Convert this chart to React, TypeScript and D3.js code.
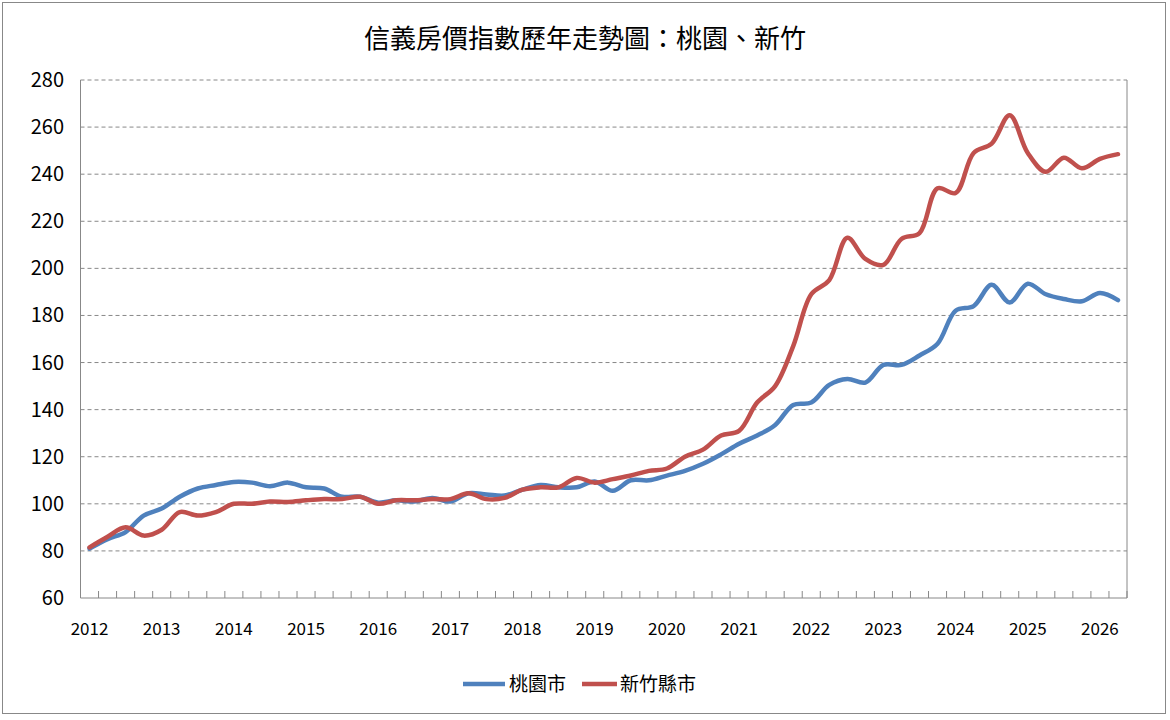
import React from "react";
import * as d3 from "d3";

const years = ["2012","2013","2014","2015","2016","2017","2018","2019","2020","2021","2022","2023","2024","2025","2026"];
const taoyuan = [81,85,88,95,98,103,106.5,108,109.3,109,107.5,109,107,106.5,103,103,100.5,101.5,101,102.5,101,104.5,104,103.5,106,108,107,107,109.5,105.5,110,110,112,114,117,121,125.5,129,133.5,142,143,150.5,153,151.5,159,159,163,168,182,184,193,185.5,193.5,189,187,186,189.5,186.5];
const hsinchu = [81.5,86,90,86.5,89,96.5,95,96.5,100,100,101,100.8,101.5,102,102,103,100,101.5,101.5,102,102,104.5,102,102.5,106,107,107,111,109,110.5,112,114,115,120,123,129,131,143,150,167,189,195,213,204,201.5,212.5,215,234,232,249,253,265,249,241,247,242.5,246.5,248.5];
const yTicks = [60,80,100,120,140,160,180,200,220,240,260,280];

const FONT = "'Noto Sans CJK TC', 'Liberation Sans', sans-serif";

export default function App() {
  const W = 1170, H = 720;
  const left = 80.5, right = 1127, top = 80, bottom = 598;
  const n = taoyuan.length;
  const bw = (right - left) / n;
  const x = (i: number) => left + bw * (i + 0.5);
  const y = d3.scaleLinear().domain([60, 280]).range([bottom, top]);
  const line = d3.line<number>().x((_, i) => x(i)).y(d => y(d)).curve(d3.curveCatmullRom.alpha(0.5));
  const ticks = d3.range(n + 1);
  return (
    <svg width={W} height={H} style={{ position: "fixed", left: 0, top: 0 }} fontFamily={FONT}>
      <rect x={0} y={0} width={W} height={H} fill="#fff" />
      <rect x={2.5} y={2.5} width={1163} height={711} fill="none" stroke="#888" />
      <text x={585} y={48} textAnchor="middle" fontSize={26}>信義房價指數歷年走勢圖：桃園、新竹</text>
      {yTicks.map(t => (
        <g key={t}>
          {t > 60 && <line x1={left} x2={right} y1={y(t)} y2={y(t)} stroke="#888" strokeDasharray="4,3" />}
          <text x={64} y={y(t) + 7} textAnchor="end" fontSize={20}>{t}</text>
        </g>
      ))}
      <line x1={left} x2={left} y1={top} y2={bottom} stroke="#888" />
      <line x1={right} x2={right} y1={top} y2={bottom} stroke="#888" />
      <line x1={left} x2={right} y1={bottom} y2={bottom} stroke="#888" />
      {ticks.map(i => (
        <line key={i} x1={left + bw * i} x2={left + bw * i} y1={bottom} y2={bottom - 7} stroke="#888" />
      ))}
      {years.map((yr, k) => (
        <text key={yr} x={x(k * 4)} y={635} textAnchor="middle" fontSize={17}>{yr}</text>
      ))}
      <path d={line(taoyuan) || ""} fill="none" stroke="#4F81BD" strokeWidth={4.5} strokeLinejoin="round" strokeLinecap="round" />
      <path d={line(hsinchu) || ""} fill="none" stroke="#C0504D" strokeWidth={4.5} strokeLinejoin="round" strokeLinecap="round" />
      <line x1={463} x2={505} y1={684} y2={684} stroke="#4F81BD" strokeWidth={4.5} />
      <text x={509} y={691} fontSize={19}>桃園市</text>
      <line x1={582} x2={617} y1={684} y2={684} stroke="#C0504D" strokeWidth={4.5} />
      <text x={620} y={691} fontSize={19}>新竹縣市</text>
    </svg>
  );
}
